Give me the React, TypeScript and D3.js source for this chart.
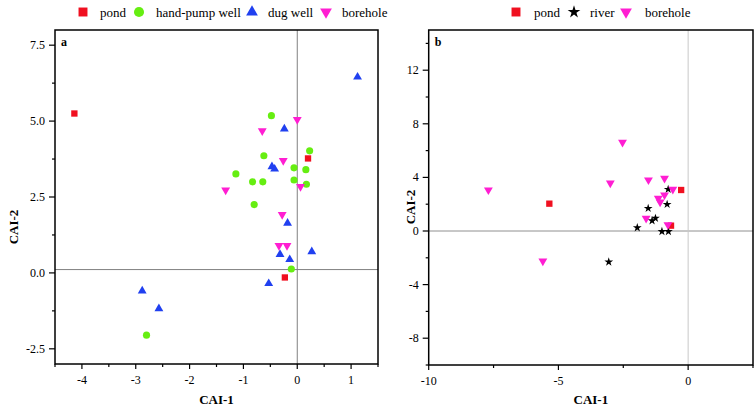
import * as d3 from 'd3';

type Pt = [number, number];

// panel a values
const pondA: Pt[] = [[-4.14, 5.25], [0.2, 3.77], [-0.23, -0.15]];
const handPumpA: Pt[] = [
  [-0.48, 5.18], [0.23, 4.02], [-0.62, 3.86], [-0.06, 3.46], [0.16, 3.4], [-1.14, 3.26],
  [-0.83, 3.0], [-0.64, 3.0], [-0.06, 3.06], [0.17, 2.92], [-0.8, 2.25], [-0.11, 0.13], [-2.8, -2.05],
];
const dugWellA: Pt[] = [
  [1.12, 6.45], [-0.24, 4.74], [-0.47, 3.5], [-0.42, 3.42], [-0.18, 1.64], [-0.32, 0.61],
  [-0.14, 0.44], [0.27, 0.7], [-0.53, -0.35], [-2.88, -0.59], [-2.57, -1.18],
];
const boreholeA: Pt[] = [
  [0, 5.05], [-0.65, 4.68], [-0.26, 3.7], [0.06, 2.84], [-1.33, 2.73], [-0.28, 1.92], [-0.34, 0.9], [-0.19, 0.9],
];

// panel b values
const pondB: Pt[] = [[-5.35, 2.04], [-0.27, 3.06], [-0.66, 0.4]];
const riverB: Pt[] = [
  [-0.77, 3.11], [-0.81, 1.99], [-1.54, 1.69], [-1.26, 0.95], [-1.39, 0.77], [-1.96, 0.25],
  [-1.01, -0.03], [-0.76, -0.03], [-3.06, -2.31],
];
const boreholeB: Pt[] = [
  [-2.53, 6.62], [-3.0, 3.58], [-1.53, 3.81], [-0.91, 3.93], [-0.59, 3.11], [-0.91, 2.69],
  [-1.15, 2.44], [-1.08, 2.16], [-1.62, 0.95], [-0.78, 0.47], [-7.7, 3.06], [-5.6, -2.24],
];

const xMajorA = [-4, -3, -2, -1, 0, 1];
const xMinorA = [-4.5, -3.5, -2.5, -1.5, -0.5, 0.5, 1.5];
const yMajorA = [7.5, 5.0, 2.5, 0.0, -2.5];
const yMinorA = [6.25, 3.75, 1.25, -1.25];
const xMajorB = [-10, -5, 0];
const xMinorB = [-7.5, -2.5, 2.5];
const yMajorB = [12, 8, 4, 0, -4, -8];
const yMinorB = [14, 10, 6, 2, -2, -6, -10];

const RED = '#f01020';
const GREEN = '#66ee11';
const BLUE = '#2040f0';
const MAGENTA = '#ff1ed2';
const FONT = "'Liberation Serif', 'Times New Roman', Times, serif";

type Kind = 'square' | 'circle' | 'triangle' | 'down' | 'star';

function symPath(kind: Kind, size: number) {
  const t =
    kind === 'square' ? d3.symbolSquare :
    kind === 'circle' ? d3.symbolCircle :
    kind === 'star' ? d3.symbolStar : d3.symbolTriangle;
  return d3.symbol().type(t).size(size)()!;
}

const markSize: Record<Kind, number> = { square: 40, circle: 40, triangle: 34, down: 34, star: 24 };
const legSize: Record<Kind, number> = { square: 80, circle: 80, triangle: 60, down: 60, star: 50 };

type Series = { name: string; kind: Kind; color: string; data: Pt[]; lx: number; tx: number };

type PanelProps = {
  label: string;
  left: number; right: number; top: number; bottom: number;
  xDomain: [number, number]; yDomain: [number, number];
  xMajor: number[]; xMinor: number[]; yMajor: number[]; yMinor: number[];
  yFmt: (v: number) => string;
  hLine: number; hColor: string; vColor: string;
  series: Series[];
  yTitleX: number; yTitleY: number;
};

function Panel(p: PanelProps) {
  const x = d3.scaleLinear().domain(p.xDomain).range([p.left, p.right]);
  const y = d3.scaleLinear().domain(p.yDomain).range([p.bottom, p.top]);
  return (
    <g style={{ fontFamily: FONT }}>
      {/* reference lines */}
      <line x1={p.left} x2={p.right} y1={y(p.hLine)} y2={y(p.hLine)} stroke={p.hColor} strokeWidth={1} />
      <line x1={x(0)} x2={x(0)} y1={p.top} y2={p.bottom} stroke={p.vColor} strokeWidth={1} />

      {/* points */}
      {p.series.map((s) =>
        s.data.map((d, i) => (
          <path
            key={s.name + i}
            d={symPath(s.kind, markSize[s.kind])}
            transform={`translate(${x(d[0])},${y(d[1])})${s.kind === 'down' ? ' rotate(180)' : ''}`}
            fill={s.color}
          />
        ))
      )}

      {/* frame */}
      <rect x={p.left} y={p.top} width={p.right - p.left} height={p.bottom - p.top} fill="none" stroke="#000" strokeWidth={1.5} />

      {/* x axis */}
      {p.xMajor.map((t) => (
        <g key={'xM' + t}>
          <line x1={x(t)} x2={x(t)} y1={p.bottom} y2={p.bottom + 5} stroke="#000" strokeWidth={1.2} />
          <text x={x(t)} y={p.bottom + 20} textAnchor="middle" fontSize={12}>{t}</text>
        </g>
      ))}
      {p.xMinor.map((t) => (
        <line key={'xm' + t} x1={x(t)} x2={x(t)} y1={p.bottom} y2={p.bottom + 3} stroke="#000" strokeWidth={1.2} />
      ))}

      {/* y axis */}
      {p.yMajor.map((t) => (
        <g key={'yM' + t}>
          <line x1={p.left - 6} x2={p.left} y1={y(t)} y2={y(t)} stroke="#000" strokeWidth={1.2} />
          <text x={p.left - 10} y={y(t) + 4} textAnchor="end" fontSize={12}>{p.yFmt(t)}</text>
        </g>
      ))}
      {p.yMinor.map((t) => (
        <line key={'ym' + t} x1={p.left - 3} x2={p.left} y1={y(t)} y2={y(t)} stroke="#000" strokeWidth={1.2} />
      ))}

      <text x={p.left + 6} y={p.top + 16} fontSize={12} fontWeight="bold">{p.label}</text>

      <text x={(p.left + p.right) / 2} y={404} textAnchor="middle" fontSize={13} fontWeight="bold">CAI-1</text>
      <text
        transform={`translate(${p.yTitleX},${p.yTitleY}) rotate(-90)`}
        textAnchor="middle"
        fontSize={13}
        fontWeight="bold"
      >
        CAI-2
      </text>

      {/* legend */}
      {p.series.map((s) => (
        <g key={'leg' + s.name}>
          <path
            d={symPath(s.kind, legSize[s.kind])}
            transform={`translate(${s.lx},12)${s.kind === 'down' ? ' rotate(180)' : ''}`}
            fill={s.color}
          />
          <text x={s.tx} y={16.5} fontSize={13}>{s.name}</text>
        </g>
      ))}
    </g>
  );
}

export default function App() {
  return (
    <svg width={756} height={409} style={{ position: 'absolute', left: 0, top: 0, background: '#fff' }}>
      <rect width={756} height={409} fill="#fff" />
      <Panel
        label="a"
        left={55} right={378} top={30} bottom={364}
        xDomain={[-4.5, 1.5]} yDomain={[-3, 8]}
        xMajor={xMajorA} xMinor={xMinorA} yMajor={yMajorA} yMinor={yMinorA}
        yFmt={(v) => v.toFixed(1)}
        hLine={0.11} hColor="#808080" vColor="#808080"
        yTitleX={18} yTitleY={227}
        series={[
          { name: 'pond', kind: 'square', color: RED, data: pondA, lx: 83, tx: 100 },
          { name: 'hand-pump well', kind: 'circle', color: GREEN, data: handPumpA, lx: 139, tx: 156 },
          { name: 'dug well', kind: 'triangle', color: BLUE, data: dugWellA, lx: 252, tx: 268 },
          { name: 'borehole', kind: 'down', color: MAGENTA, data: boreholeA, lx: 326, tx: 342 },
        ]}
      />
      <Panel
        label="b"
        left={428.7} right={753} top={30} bottom={365}
        xDomain={[-10, 2.5]} yDomain={[-10, 15]}
        xMajor={xMajorB} xMinor={xMinorB} yMajor={yMajorB} yMinor={yMinorB}
        yFmt={(v) => String(v)}
        hLine={0} hColor="#909090" vColor="#c8c8c8"
        yTitleX={414.5} yTitleY={207}
        series={[
          { name: 'pond', kind: 'square', color: RED, data: pondB, lx: 516, tx: 534 },
          { name: 'river', kind: 'star', color: '#000', data: riverB, lx: 574, tx: 590 },
          { name: 'borehole', kind: 'down', color: MAGENTA, data: boreholeB, lx: 626, tx: 645 },
        ]}
      />
    </svg>
  );
}
